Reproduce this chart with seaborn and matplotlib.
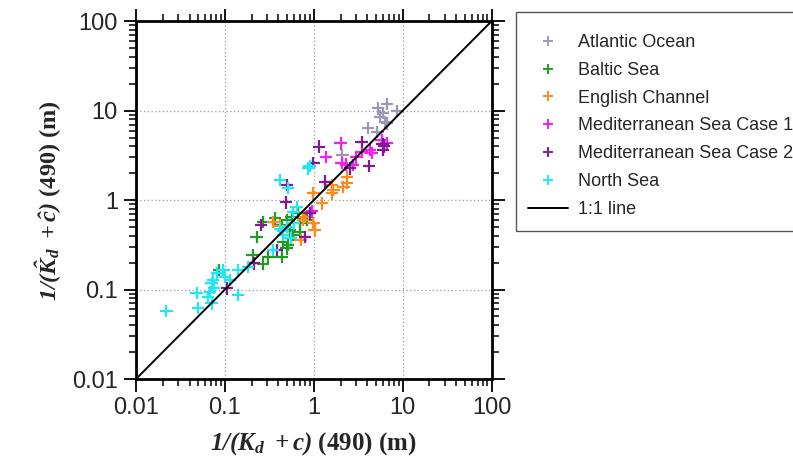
import numpy as np
import pandas as pd
import seaborn as sns
import matplotlib.pyplot as plt
from matplotlib.lines import Line2D
from matplotlib.patches import Rectangle

sns.set_theme(style="ticks")
plt.rcParams["font.family"] = ["Liberation Sans", "DejaVu Sans"]
plt.rcParams["mathtext.fontset"] = "custom"
plt.rcParams["mathtext.rm"] = "Liberation Serif:bold:italic"
plt.rcParams["mathtext.it"] = "Liberation Serif:bold:italic"
plt.rcParams["mathtext.bf"] = "Liberation Serif:bold:italic"

# values
atlantic_x = [5.3, 6.7, 8.6, 5.6, 6.3, 6.7, 4.1, 5.2, 2.1, 6.0]
atlantic_y = [10.6, 11.9, 10.0, 8.6, 7.5, 7.2, 6.4, 5.8, 3.2, 9.4]

baltic_x = [0.27, 0.366, 0.228, 0.205, 0.27, 0.308, 0.435, 0.495, 0.564, 0.70,
            0.83, 0.54, 0.454, 0.516, 0.495, 0.435, 0.67, 0.588, 0.70, 0.087]
baltic_y = [0.573, 0.625, 0.39, 0.243, 0.193, 0.229, 0.527, 0.60, 0.652, 0.55,
            0.60, 0.46, 0.343, 0.315, 0.289, 0.233, 0.71, 0.407, 0.443, 0.165]

english_x = [2.38, 2.35, 2.15, 1.59, 1.66, 1.60, 0.99, 1.23, 0.99, 1.02,
             0.76, 0.71, 0.35, 0.42, 0.80]
english_y = [1.80, 1.55, 1.41, 1.47, 1.30, 1.19, 1.19, 0.92, 0.55, 0.46,
             0.60, 0.36, 0.57, 0.52, 0.65]

med1_x = [1.37, 2.01, 2.06, 3.46, 4.29, 4.48, 5.80, 2.78, 3.0, 2.3, 0.95, 6.6]
med1_y = [3.06, 4.32, 2.62, 3.48, 3.63, 3.39, 4.70, 2.47, 3.0, 2.5, 0.75, 4.3]

med2_x = [1.15, 3.46, 6.05, 5.96, 2.55, 4.21, 0.99, 1.34, 0.495, 0.49,
          0.255, 0.388, 0.80, 0.91, 0.21, 0.106, 6.2]
med2_y = [3.96, 4.50, 3.63, 4.24, 2.27, 2.41, 2.62, 1.61, 1.47, 0.945,
          0.526, 0.277, 0.39, 0.71, 0.196, 0.103, 4.0]

north_x = [0.022, 0.048, 0.050, 0.068, 0.071, 0.074, 0.081, 0.065, 0.071, 0.096,
           0.14, 0.14, 0.114, 0.417, 0.516, 0.642, 0.588, 0.417, 0.454, 0.35,
           0.183, 0.87, 0.90, 0.50, 0.60, 0.45, 0.55, 0.075, 0.10]
north_y = [0.058, 0.092, 0.062, 0.0945, 0.117, 0.128, 0.152, 0.083, 0.070, 0.165,
           0.087, 0.165, 0.128, 1.68, 1.36, 0.84, 0.74, 0.48, 0.407, 0.277,
           0.18, 2.27, 2.40, 0.50, 0.55, 0.45, 0.38, 0.105, 0.14]

regions = ["Atlantic Ocean", "Baltic Sea", "English Channel",
           "Mediterranean Sea Case 1", "Mediterranean Sea Case 2", "North Sea"]
colors = ["#9a9ab4", "#239a23", "#ff8a1e", "#ee22ee", "#821a96", "#22e6f2"]
xs = [atlantic_x, baltic_x, english_x, med1_x, med2_x, north_x]
ys = [atlantic_y, baltic_y, english_y, med1_y, med2_y, north_y]

df = pd.concat([pd.DataFrame({"x": x, "y": y, "region": r})
                for x, y, r in zip(xs, ys, regions)], ignore_index=True)
palette = dict(zip(regions, colors))

fig = plt.figure(figsize=(7.93, 4.70), dpi=100)
ax = fig.add_axes([0.1715, 0.1936, 0.4483, 0.7611])

sns.scatterplot(data=df, x="x", y="y", hue="region", palette=palette,
                marker="+", s=80, linewidth=1.6, legend=False, ax=ax, zorder=3)
ax.plot([0.01, 100], [0.01, 100], color="black", lw=1.4, zorder=4)

ax.set_xscale("log")
ax.set_yscale("log")
ax.set_xlim(0.01, 100)
ax.set_ylim(0.01, 100)
ax.set_xticks([0.01, 0.1, 1, 10, 100])
ax.set_xticklabels(["0.01", "0.1", "1", "10", "100"])
ax.set_yticks([0.01, 0.1, 1, 10, 100])
ax.set_yticklabels(["0.01", "0.1", "1", "10", "100"])
ax.grid(True, which="major", linestyle=(0, (1, 2)), color="#999999", lw=0.9)

for s in ax.spines.values():
    s.set_linewidth(2)
    s.set_color("black")
ax.tick_params(which="both", direction="out", top=True, right=True,
               color="black", width=1.3)
ax.tick_params(which="major", length=9, labelsize=17, pad=4)
ax.tick_params(which="minor", length=5, width=1.1)

ax.set_xlabel(r"$1/(K_d\ +c)$ (490) (m)", fontsize=18, family="Liberation Serif",
              fontweight="bold", labelpad=8)
ax.set_ylabel(r"$1/(\hat{K}_d\ +\hat{c})$ (490) (m)", fontsize=17.5,
              family="Liberation Serif", fontweight="bold", labelpad=6)

# legend frame runs past the right edge of the figure, as in the original
fig.patches.append(Rectangle((516 / 793, 1 - 231 / 470), 0.4, 219 / 470,
                             transform=fig.transFigure, fill=False,
                             edgecolor="#555555", lw=1.0))

handles = [Line2D([], [], ls="none", marker="+", color=c, markersize=7, mew=1.4)
           for c in colors]
handles.append(Line2D([], [], color="black", lw=1.4))
labels = regions + ["1:1 line"]
leg = fig.legend(handles, labels, loc="upper left",
                 bbox_to_anchor=(528 / 793, 1 - 34 / 470),
                 fontsize=13, frameon=False, borderpad=0,
                 labelspacing=0.6, handlelength=2.2, handletextpad=0.55,
                 borderaxespad=0)

fig.savefig("out.png", dpi=100)
